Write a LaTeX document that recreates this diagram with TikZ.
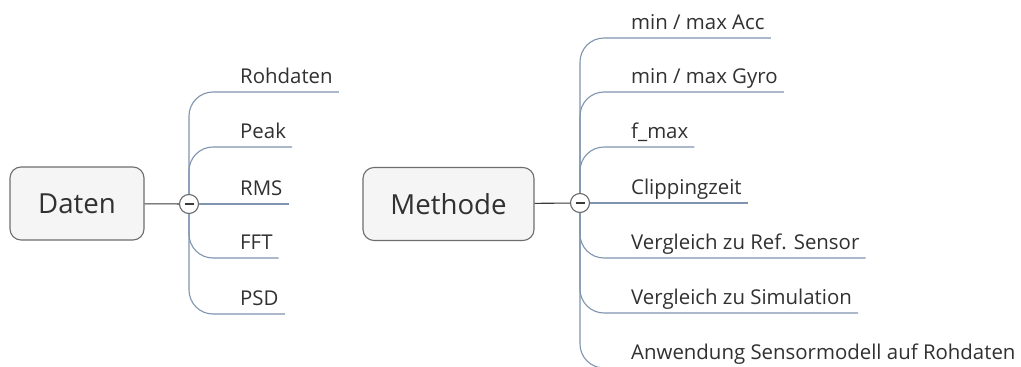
\documentclass[tikz,border=0pt]{standalone}
\usepackage{fontspec}
\setmainfont{Open Sans}
\definecolor{textgray}{HTML}{313131}
\definecolor{boxborder}{HTML}{6E6E6E}
\definecolor{boxfill}{HTML}{F5F5F5}
\definecolor{knobgray}{HTML}{6A6A6A}
\definecolor{linkgray}{HTML}{3A3A3A}
\definecolor{branchblue}{HTML}{7F94AE}
\begin{document}
\begin{tikzpicture}[x=1pt,y=-1pt,
  topic/.style={draw=boxborder, fill=boxfill, line width=1.1pt, rounded corners=11pt,
    minimum width=#1, minimum height=73pt, inner sep=0pt,
    font=\fontsize{27.6}{31}\selectfont, text=textgray},
  knob/.style={circle, draw=knobgray, fill=white, line width=1.1pt,
    minimum size=19pt, inner sep=0pt},
  minus/.style={draw=linkgray, line width=1.6pt},
  leaf/.style={anchor=south west, inner xsep=6pt, inner ysep=0pt,
    text depth=8pt, text height=15pt,
    font=\fontsize{20.4}{23}\selectfont, text=textgray},
  branch/.style={draw=branchblue, line width=1.1pt, rounded corners=24pt},
  link/.style={draw=linkgray, line width=1.1pt}]
\clip (0,0) rectangle (1021,367);
\fill[white] (0,0) rectangle (1021,367);

% ---- Daten ----
\node[topic=134pt] (db) at (77,203.5) {Daten};
\node[leaf] (l1) at (234,92)  {Rohdaten};
\node[leaf] (l2) at (234,147) {Peak};
\node[leaf] (l3) at (234,204) {RMS};
\node[leaf] (l4) at (234,258) {FFT};
\node[leaf] (l5) at (234,314) {PSD};
\coordinate (dcp) at (189,204);
\draw[branch] (dcp) |- (l1.south east);
\draw[branch] (dcp) |- (l2.south east);
\draw[branch] (dcp) -- (l3.south east);
\draw[branch] (dcp) |- (l4.south east);
\draw[branch] (dcp) |- (l5.south east);
\node[knob] (dc) at (dcp) {};
\draw[link] (db) -- (dc);
\draw[minus] (dc.center) ++(-4.5,0) -- ++(9,0);

% ---- Methode ----
\node[topic=171pt] (mb) at (448.5,204) {Methode};
\node[leaf] (m1) at (625,38)  {min / max Acc};
\node[leaf] (m2) at (625,92)  {min / max Gyro};
\node[leaf] (m3) at (625,147) {f\_max};
\node[leaf] (m4) at (625,203) {Clippingzeit};
\node[leaf] (m5) at (625,258) {Vergleich zu Ref. Sensor};
\node[leaf] (m6) at (625,313) {Vergleich zu Simulation};
\node[leaf] (m7) at (625,368) {Anwendung Sensormodell auf Rohdaten};
\coordinate (mcp) at (580,203);
\draw[branch] (mcp) |- (m1.south east);
\draw[branch] (mcp) |- (m2.south east);
\draw[branch] (mcp) |- (m3.south east);
\draw[branch] (mcp) -- (m4.south east);
\draw[branch] (mcp) |- (m5.south east);
\draw[branch] (mcp) |- (m6.south east);
\draw[branch] (mcp) |- (m7.south east);
\node[knob] (mc) at (mcp) {};
\draw[link] (mb) -- (mc);
\draw[minus] (mc.center) ++(-4.5,0) -- ++(9,0);
\end{tikzpicture}
\end{document}
